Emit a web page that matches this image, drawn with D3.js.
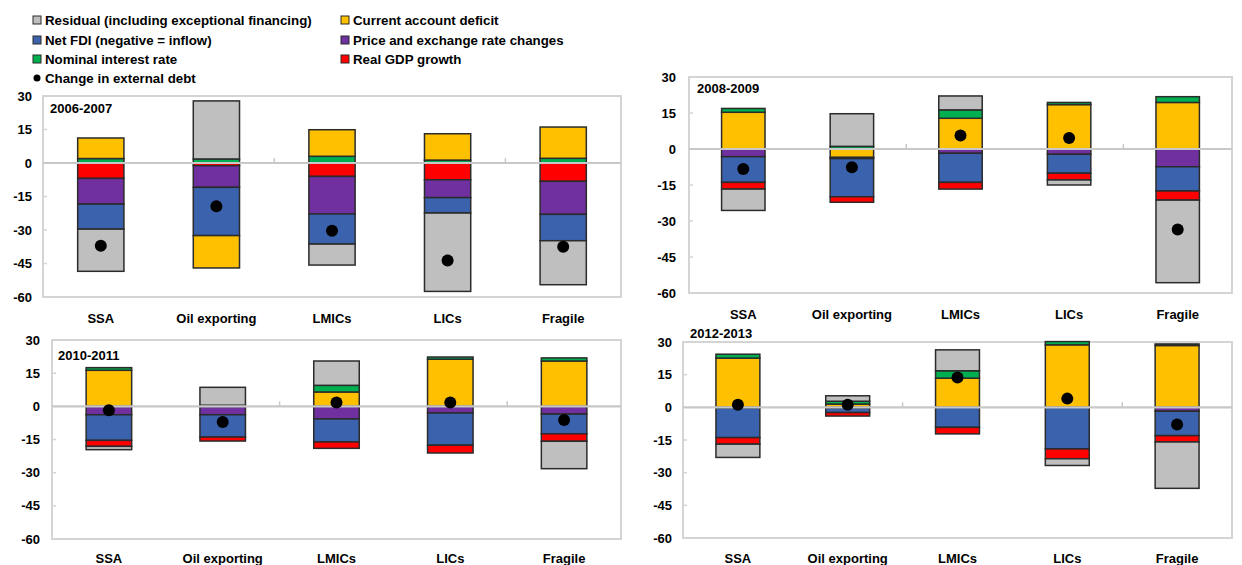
<!DOCTYPE html>
<html>
<head>
<meta charset="utf-8">
<script src="https://cdn.jsdelivr.net/npm/d3@7"></script>
<style>
  html, body { margin: 0; padding: 0; background: #fff; }
  svg { display: block; }
  text { font-family: "Liberation Sans", Arial, sans-serif; fill: #000; }
</style>
</head>
<body>
<svg id="chart" width="1242" height="565"></svg>
<script>
// Country groups and time windows
const categories = ["SSA", "Oil exporting", "LMICs", "LICs", "Fragile"];
const periods = ["2006-2007", "2008-2009", "2010-2011", "2012-2013"];
const yTicks = [30, 15, 0, -15, -30, -45, -60];

// Contributions to the change in external debt (% of GDP), one row per period
const residual = [
  [-18.9, 26.0, -9.4, -35.1, -19.7],
  [-8.9, 13.6, 5.8, -2.1, -34.4],
  [-1.5, 8.1, 11.0, 0.0, -12.4],
  [-6.1, 2.5, 9.6, -3.1, -21.3]
];
const currentAccount = [
  [9.2, -14.5, 11.9, 11.8, 14.0],
  [15.3, -3.5, 12.8, 18.5, 19.4],
  [16.3, 0.0, 6.5, 21.3, 20.5],
  [22.6, 1.5, 13.4, 28.7, 28.4]
];
const netFDI = [
  [-11.2, -21.6, -13.5, -6.9, -11.8],
  [-10.7, -15.9, -12.1, -7.9, -10.1],
  [-11.6, -10.1, -10.4, -14.6, -8.9],
  [-13.6, -2.1, -9.2, -19.1, -11.2]
];
const priceFx = [
  [-11.5, -9.7, -16.8, -8.0, -14.8],
  [-3.2, -0.5, -1.8, -2.2, -7.4],
  [-3.8, -3.8, -5.7, -3.0, -3.5],
  [-0.3, -0.3, 0.0, 0.0, -1.8]
];
const interestRate = [
  [2.0, 1.8, 3.0, 1.3, 2.1],
  [1.6, 1.1, 3.5, 0.9, 2.4],
  [1.2, 0.5, 3.0, 1.0, 1.4],
  [1.8, 1.3, 3.4, 1.5, 0.7]
];
const gdpGrowth = [
  [-6.9, -1.2, -6.0, -7.5, -8.2],
  [-2.8, -2.3, -2.8, -2.8, -3.8],
  [-2.7, -1.8, -2.9, -3.5, -3.4],
  [-3.0, -1.6, -3.0, -4.5, -2.9]
];
const debtChange = [
  [-37.0, -19.4, -30.3, -43.7, -37.5],
  [-8.3, -7.6, 5.6, 4.6, -33.5],
  [-1.8, -7.1, 1.7, 1.7, -6.2],
  [1.2, 1.2, 13.7, 4.0, -7.9]
];

// Series metadata (legend order) and stacking order for each panel
const seriesKeys = ["residual", "ca", "fdi", "price", "interest", "gdp"];
const seriesLabels = {
  residual: "Residual (including exceptional financing)",
  ca: "Current account deficit",
  fdi: "Net FDI (negative = inflow)",
  price: "Price and exchange rate changes",
  interest: "Nominal interest rate",
  gdp: "Real GDP growth"
};
const seriesColors = {
  residual: "#bfbfbf",
  ca: "#ffc000",
  fdi: "#3a62ad",
  price: "#7030a0",
  interest: "#00b050",
  gdp: "#ff0000"
};
const stackOrders = [
  ["interest", "gdp", "price", "fdi", "ca", "residual"],
  ["ca", "price", "fdi", "interest", "gdp", "residual"],
  ["ca", "price", "fdi", "interest", "gdp", "residual"],
  ["ca", "price", "fdi", "interest", "gdp", "residual"]
];
const seriesData = {
  residual: residual, ca: currentAccount, fdi: netFDI,
  price: priceFx, interest: interestRate, gdp: gdpGrowth
};

// Panel frames on the page
const panels = [
  { x0: 43, x1: 621, y0: 96, y1: 297, labelY: 323, titleX: 50, titleY: 113, tickX: 32 },
  { x0: 689, x1: 1232, y0: 77, y1: 293, labelY: 319, titleX: 697, titleY: 93, tickX: 676 },
  { x0: 52, x1: 621, y0: 340, y1: 539, labelY: 563, titleX: 58, titleY: 360, tickX: 40 },
  { x0: 683, x1: 1232, y0: 342, y1: 538, labelY: 563, titleX: 690, titleY: 338, tickX: 672 }
];

const svg = d3.select("#chart");

panels.forEach((p, pi) => {
  const g = svg.append("g");
  const x = d3.scaleBand().domain(categories).range([p.x0, p.x1]).paddingInner(0).paddingOuter(0);
  const y = d3.scaleLinear().domain([-60, 30]).range([p.y1, p.y0]);

  // frame
  g.append("rect")
    .attr("x", p.x0).attr("y", p.y0)
    .attr("width", p.x1 - p.x0).attr("height", p.y1 - p.y0)
    .attr("fill", "none").attr("stroke", "#d4d4d4").attr("stroke-width", 2);

  // y ticks (inside marks) and labels
  yTicks.forEach(t => {
    if (t !== 30 && t !== -60 && t !== 0) {
      g.append("line")
        .attr("x1", p.x0).attr("x2", p.x0 + 4)
        .attr("y1", y(t)).attr("y2", y(t))
        .attr("stroke", "#d4d4d4").attr("stroke-width", 1.5);
    }
    g.append("text")
      .attr("x", p.tickX).attr("y", y(t))
      .attr("dy", "0.35em")
      .attr("text-anchor", "end")
      .attr("font-size", 13).attr("font-weight", "bold")
      .text(t);
  });

  // stacked bars
  const rows = categories.map((c, ci) => {
    const row = { cat: c };
    seriesKeys.forEach(k => { row[k] = seriesData[k][pi][ci]; });
    return row;
  });
  const stacked = d3.stack()
    .keys(stackOrders[pi])
    .offset(d3.stackOffsetDiverging)(rows);

  const bw = x.bandwidth() * 0.4;
  stacked.forEach(layer => {
    g.selectAll(null)
      .data(layer.filter(d => d[1] !== d[0]))
      .join("rect")
      .attr("x", d => x(d.data.cat) + (x.bandwidth() - bw) / 2)
      .attr("y", d => y(Math.max(d[0], d[1])))
      .attr("width", bw)
      .attr("height", d => Math.abs(y(d[0]) - y(d[1])))
      .attr("fill", seriesColors[layer.key])
      .attr("stroke", "#2b2b2b")
      .attr("stroke-width", 1.5);
  });

  // zero line and category separators
  g.append("line")
    .attr("x1", p.x0).attr("x2", p.x1)
    .attr("y1", y(0)).attr("y2", y(0))
    .attr("stroke", "#c8c8c8").attr("stroke-width", 2.2);
  [2, 4].forEach(i => {
    const bx = p.x0 + i * x.step();
    g.append("line")
      .attr("x1", bx).attr("x2", bx)
      .attr("y1", y(0)).attr("y2", y(0) - 5)
      .attr("stroke", "#c8c8c8").attr("stroke-width", 1.5);
  });

  // change in external debt
  g.selectAll(null)
    .data(categories)
    .join("circle")
    .attr("cx", c => x(c) + x.bandwidth() / 2)
    .attr("cy", (c, ci) => y(debtChange[pi][ci]))
    .attr("r", 6)
    .attr("fill", "#000");

  // category labels
  g.selectAll(null)
    .data(categories)
    .join("text")
    .attr("x", c => x(c) + x.bandwidth() / 2)
    .attr("y", p.labelY)
    .attr("text-anchor", "middle")
    .attr("font-size", 13).attr("font-weight", "bold")
    .text(c => c);

  // period title
  g.append("text")
    .attr("x", p.titleX).attr("y", p.titleY)
    .attr("font-size", 13).attr("font-weight", "bold")
    .text(periods[pi]);
});

// legend
const legendItems = [
  { key: "residual", col: 0, row: 0 },
  { key: "ca", col: 1, row: 0 },
  { key: "fdi", col: 0, row: 1 },
  { key: "price", col: 1, row: 1 },
  { key: "interest", col: 0, row: 2 },
  { key: "gdp", col: 1, row: 2 }
];
const legendColX = [33, 341];
const legendRowY = [20, 40, 59, 78];
const lg = svg.append("g");
legendItems.forEach(it => {
  const lx = legendColX[it.col], ly = legendRowY[it.row];
  lg.append("rect")
    .attr("x", lx).attr("y", ly - 4)
    .attr("width", 8).attr("height", 8)
    .attr("fill", seriesColors[it.key])
    .attr("stroke", "#2b2b2b").attr("stroke-width", 1);
  lg.append("text")
    .attr("x", lx + 12).attr("y", ly)
    .attr("dy", "0.36em")
    .attr("font-size", 13.3).attr("font-weight", "bold")
    .text(seriesLabels[it.key]);
});
lg.append("circle")
  .attr("cx", legendColX[0] + 4).attr("cy", legendRowY[3])
  .attr("r", 3.5).attr("fill", "#000");
lg.append("text")
  .attr("x", legendColX[0] + 12).attr("y", legendRowY[3])
  .attr("dy", "0.36em")
  .attr("font-size", 13.3).attr("font-weight", "bold")
  .text("Change in external debt");
</script>
</body>
</html>
